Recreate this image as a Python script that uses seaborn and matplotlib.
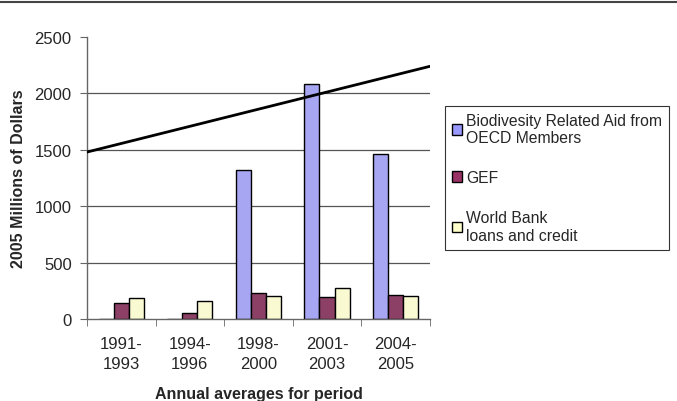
import pandas as pd
import matplotlib.pyplot as plt
import seaborn as sns
from matplotlib.lines import Line2D

# Dados
periods = ['1991-\n1993', '1994-\n1996', '1998-\n2000', '2001-\n2003', '2004-\n2005']
series_names = ['Biodivesity Related Aid from\nOECD Members', 'GEF', 'World Bank\nloans and credit']
oecd_aid = [0, 0, 1320, 2080, 1460]
gef = [140, 50, 228, 195, 213]
world_bank = [189, 163, 204, 278, 204]
trend_ends = [1480, 2240]   # linha de tendência nas bordas do eixo
colors = ['#9999FF', '#993366', '#FFFFCC']

rows = []
for name, vals in zip(series_names, [oecd_aid, gef, world_bank]):
    for p, v in zip(periods, vals):
        rows.append({'period': p, 'value': v, 'series': name})
df = pd.DataFrame(rows)

sns.set_style('white')
plt.rcParams['font.family'] = ['Liberation Sans', 'DejaVu Sans']

fig = plt.figure(figsize=(6.77, 4.02), dpi=100)
ax = fig.add_axes([0.1285, 0.204, 0.5065, 0.7015])

sns.barplot(data=df, x='period', y='value', hue='series', palette=colors,
            edgecolor='black', linewidth=1.0, width=0.66, gap=0, ax=ax,
            legend=False, errorbar=None)

ax.plot([-0.5, 4.5], trend_ends, color='black', linewidth=2, zorder=5)

ax.set_xlim(-0.5, 4.5)
ax.set_ylim(0, 2500)
ax.set_yticks([0, 500, 1000, 1500, 2000, 2500])
ax.yaxis.grid(True, color='#555555', linewidth=0.9)
ax.set_axisbelow(True)
ax.get_ygridlines()[-1].set_visible(False)
ax.get_ygridlines()[0].set_visible(False)

for s in ['top', 'right']:
    ax.spines[s].set_visible(False)
for s in ['left', 'bottom']:
    ax.spines[s].set_color('#666666')
    ax.spines[s].set_linewidth(1.0)

ax.set_xticks([i + 0.5 for i in range(-1, 5)], minor=True)
ax.tick_params(axis='x', which='major', length=0, labelsize=12, pad=12)
ax.tick_params(axis='x', which='minor', length=5, color='#666666', bottom=True)
ax.tick_params(axis='y', length=5, color='#666666', left=True, labelsize=12, pad=6)
plt.setp(ax.get_xticklabels(), linespacing=1.45)

ax.set_xlabel('Annual averages for period', fontsize=11.5, fontweight='bold', labelpad=11)
ax.set_ylabel('2005 Millions of Dollars', fontsize=11.5, fontweight='bold', labelpad=6)

handles = [plt.Rectangle((0, 0), 1, 1, facecolor=c, edgecolor='black', linewidth=1) for c in colors]
leg = fig.legend(handles, series_names, loc='upper left', bbox_to_anchor=(0.657, 0.735),
                 frameon=True, fancybox=False, edgecolor='black', fontsize=11.3,
                 handlelength=0.65, handleheight=0.65, handletextpad=0.25,
                 labelspacing=1.6, borderpad=0.45, borderaxespad=0)
leg.get_frame().set_linewidth(0.8)

# linha escura no topo da figura
fig.add_artist(Line2D([0, 1], [0.992, 0.992], color='#444444', linewidth=1.5))

plt.savefig('out.png', dpi=100)
